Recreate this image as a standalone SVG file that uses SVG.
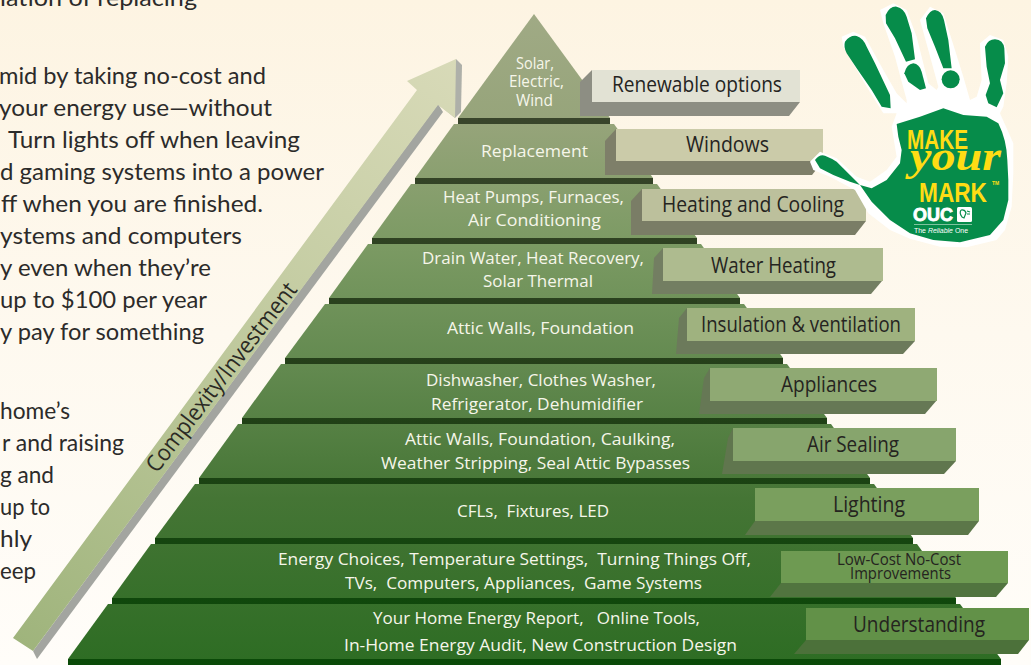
<svg xmlns="http://www.w3.org/2000/svg" width="1031" height="665" viewBox="0 0 1031 665">
<defs>
<linearGradient id="bg" x1="0" y1="0" x2="0" y2="1"><stop offset="0" stop-color="#fdf4e2"/><stop offset="0.5" stop-color="#fef9ef"/><stop offset="1" stop-color="#fffdf9"/></linearGradient>
<linearGradient id="tierFill" gradientUnits="userSpaceOnUse" x1="0" y1="14" x2="0" y2="660"><stop offset="0" stop-color="#a0aa85"/><stop offset="0.17" stop-color="#96a47a"/><stop offset="0.36" stop-color="#7b9a63"/><stop offset="0.55" stop-color="#62894f"/><stop offset="0.75" stop-color="#457535"/><stop offset="1" stop-color="#2e6d24"/></linearGradient>
<linearGradient id="barFill" gradientUnits="userSpaceOnUse" x1="0" y1="118" x2="0" y2="665"><stop offset="0" stop-color="#39452b"/><stop offset="0.5" stop-color="#233f18"/><stop offset="1" stop-color="#0a4a08"/></linearGradient>
<linearGradient id="arrowFill" gradientUnits="userSpaceOnUse" x1="456" y1="59" x2="20" y2="645"><stop offset="0" stop-color="#d8dab8"/><stop offset="0.5" stop-color="#bfc99d"/><stop offset="1" stop-color="#9fb47c"/></linearGradient>
<style>
.tier{fill:url(#tierFill)}
.bar{fill:url(#barFill)}
.t{font-family:"Open Sans","Noto Sans",sans-serif;font-size:17px;fill:#f6f6ea;white-space:pre}
.l{font-family:"Open Sans","Noto Sans",sans-serif;font-size:21.5px;fill:#25241f}
.s{font-size:16px}
.b{font-family:Lato,"Open Sans",sans-serif;font-size:24px;fill:#2c2b2a}
.hand{fill:#068c4a}
.y{fill:#ffdc14}
</style>
</defs>
<rect width="1031" height="665" fill="url(#bg)"/>

<g id="body-text">
<text class="b" x="0" y="6" textLength="197" lengthAdjust="spacingAndGlyphs">lation of replacing</text>
<text class="b" x="-1" y="84" textLength="267" lengthAdjust="spacingAndGlyphs">mid by taking no-cost and</text>
<text class="b" x="-1" y="116" textLength="273" lengthAdjust="spacingAndGlyphs">your energy use—without</text>
<text class="b" x="8" y="148" textLength="292" lengthAdjust="spacingAndGlyphs">Turn lights off when leaving</text>
<text class="b" x="0" y="180" textLength="324" lengthAdjust="spacingAndGlyphs">d gaming systems into a power</text>
<text class="b" x="1" y="212" textLength="262" lengthAdjust="spacingAndGlyphs">ff when you are finished.</text>
<text class="b" x="0" y="244" textLength="242" lengthAdjust="spacingAndGlyphs">ystems and computers</text>
<text class="b" x="0" y="276" textLength="211" lengthAdjust="spacingAndGlyphs">y even when they’re</text>
<text class="b" x="0" y="308" textLength="207" lengthAdjust="spacingAndGlyphs">up to $100 per year</text>
<text class="b" x="0" y="340" textLength="204" lengthAdjust="spacingAndGlyphs">y pay for something</text>
<text class="b" x="0" y="419" textLength="70" lengthAdjust="spacingAndGlyphs">home’s</text>
<text class="b" x="2" y="451" textLength="122" lengthAdjust="spacingAndGlyphs">r and raising</text>
<text class="b" x="0" y="483" textLength="54" lengthAdjust="spacingAndGlyphs">g and</text>
<text class="b" x="0" y="515" textLength="50" lengthAdjust="spacingAndGlyphs">up to</text>
<text class="b" x="0" y="547" textLength="32" lengthAdjust="spacingAndGlyphs">hly</text>
<text class="b" x="0" y="579" textLength="36" lengthAdjust="spacingAndGlyphs">eep</text>
</g>

<g id="arrow">
<polygon points="33,651 37,659 443,112 438,104" fill="#a3a5a0"/>
<polygon points="456,59 462,65 461,112 455,118 438,104" fill="#aeb0a9"/>
<polygon points="456,59 407,81 417,90 13,638 33,651 438,105 455,118" fill="url(#arrowFill)"/>
<text transform="translate(157,474) rotate(-52.5)" font-family="'Open Sans','Noto Sans',sans-serif" font-size="23" fill="#2b2a24" textLength="232" lengthAdjust="spacingAndGlyphs">Complexity/Investment</text>
</g>

<g id="tier-solar"><polygon class="tier" points="534,14 610,118 458,118"/><rect class="bar" x="458" y="118" width="152" height="6"/>
<text class="t" x="516" y="69" textLength="38" lengthAdjust="spacingAndGlyphs">Solar,</text><text class="t" x="509" y="87" textLength="55" lengthAdjust="spacingAndGlyphs">Electric,</text><text class="t" x="516" y="106" textLength="37" lengthAdjust="spacingAndGlyphs">Wind</text></g>
<g id="tier-replacement"><polygon class="tier" points="454,124 614,124 653,178 415,178"/><rect class="bar" x="415" y="178" width="238" height="6"/>
<text class="t" x="481" y="157" textLength="107" lengthAdjust="spacingAndGlyphs">Replacement</text></g>
<g id="tier-heat"><polygon class="tier" points="411,184 657,184 697,238 372,238"/><rect class="bar" x="372" y="238" width="325" height="6"/>
<text class="t" x="443" y="203" textLength="181" lengthAdjust="spacingAndGlyphs">Heat Pumps, Furnaces,</text><text class="t" x="468" y="226" textLength="133" lengthAdjust="spacingAndGlyphs">Air Conditioning</text></g>
<g id="tier-water"><polygon class="tier" points="368,244 701,244 740,298 329,298"/><rect class="bar" x="329" y="298" width="411" height="6"/>
<text class="t" x="422" y="264" textLength="222" lengthAdjust="spacingAndGlyphs">Drain Water, Heat Recovery,</text><text class="t" x="483" y="287" textLength="110" lengthAdjust="spacingAndGlyphs">Solar Thermal</text></g>
<g id="tier-insulation"><polygon class="tier" points="325,304 744,304 783,358 285,358"/><rect class="bar" x="285" y="358" width="498" height="6"/>
<text class="t" x="447" y="334" textLength="187" lengthAdjust="spacingAndGlyphs">Attic Walls, Foundation</text></g>
<g id="tier-appliances"><polygon class="tier" points="281,364 787,364 827,418 242,418"/><rect class="bar" x="242" y="418" width="585" height="6"/>
<text class="t" x="426" y="386" textLength="230" lengthAdjust="spacingAndGlyphs">Dishwasher, Clothes Washer,</text><text class="t" x="431" y="410" textLength="212" lengthAdjust="spacingAndGlyphs">Refrigerator, Dehumidifier</text></g>
<g id="tier-sealing"><polygon class="tier" points="238,424 831,424 870,478 199,478"/><rect class="bar" x="199" y="478" width="671" height="6"/>
<text class="t" x="405" y="445" textLength="270" lengthAdjust="spacingAndGlyphs">Attic Walls, Foundation, Caulking,</text><text class="t" x="381" y="469" textLength="309" lengthAdjust="spacingAndGlyphs">Weather Stripping, Seal Attic Bypasses</text></g>
<g id="tier-lighting"><polygon class="tier" points="195,484 874,484 913,538 155,538"/><rect class="bar" x="155" y="538" width="758" height="6"/>
<text class="t" x="457" y="517" textLength="152" lengthAdjust="spacingAndGlyphs">CFLs,  Fixtures, LED</text></g>
<g id="tier-lowcost"><polygon class="tier" points="151,544 917,544 956,598 112,598"/><rect class="bar" x="112" y="598" width="844" height="6"/>
<text class="t" x="278" y="565" textLength="473" lengthAdjust="spacingAndGlyphs">Energy Choices, Temperature Settings,  Turning Things Off,</text><text class="t" x="345" y="589" textLength="357" lengthAdjust="spacingAndGlyphs">TVs,  Computers, Appliances,  Game Systems</text></g>
<g id="tier-understanding"><polygon class="tier" points="108,604 960,604 1001,659 68,659"/><rect class="bar" x="68" y="659" width="933" height="6"/>
<text class="t" x="373" y="624" textLength="327" lengthAdjust="spacingAndGlyphs">Your Home Energy Report,   Online Tools,</text><text class="t" x="344" y="651" textLength="393" lengthAdjust="spacingAndGlyphs">In-Home Energy Audit, New Construction Design</text></g>

<g id="tab-renewable"><polygon fill="#8d8e83" points="592,70 580,82 580,116 789,116 800,102"/><rect fill="#e2e2d4" x="592" y="70" width="208" height="32"/><text class="l" x="612" y="92" textLength="170" lengthAdjust="spacingAndGlyphs">Renewable options</text></g>
<g id="tab-windows"><polygon fill="#7e7f69" points="616,129 605,141 605,175 812,175 823,161"/><rect fill="#cbcba9" x="616" y="129" width="207" height="32"/><text class="l" x="686" y="152" textLength="83" lengthAdjust="spacingAndGlyphs">Windows</text></g>
<g id="tab-heating"><polygon fill="#7a7d66" points="642,189 631,201 631,235 855,235 866,221"/><rect fill="#bcc09c" x="642" y="189" width="224" height="32"/><text class="l" x="662" y="212" textLength="182" lengthAdjust="spacingAndGlyphs">Heating and Cooling</text></g>
<g id="tab-water"><polygon fill="#737e62" points="663,248 654,258 652,294 871,294 882,281"/><rect fill="#aebb8f" x="663" y="248" width="220" height="33"/><text class="l" x="711" y="273" textLength="125" lengthAdjust="spacingAndGlyphs">Water Heating</text></g>
<g id="tab-insulation"><polygon fill="#6c7a5b" points="687,308 679,318 676,354 903,354 915,341"/><rect fill="#9fb27f" x="687" y="308" width="228" height="33"/><text class="l" x="701" y="332" textLength="200" lengthAdjust="spacingAndGlyphs">Insulation &amp; ventilation</text></g>
<g id="tab-appliances"><polygon fill="#667855" points="710,368 704,378 699,414 925,414 937,400"/><rect fill="#8fa973" x="710" y="368" width="227" height="33"/><text class="l" x="781" y="392" textLength="96" lengthAdjust="spacingAndGlyphs">Appliances</text></g>
<g id="tab-sealing"><polygon fill="#60764e" points="733,428 728,438 722,474 944,474 956,461"/><rect fill="#87a56d" x="733" y="428" width="223" height="33"/><text class="l" x="807" y="452" textLength="92" lengthAdjust="spacingAndGlyphs">Air Sealing</text></g>
<g id="tab-lighting"><polygon fill="#5c7749" points="755,521 745,535 968,535 979,521"/><rect fill="#7a9f5e" x="755" y="488" width="224" height="33"/><text class="l" x="833" y="512" textLength="72" lengthAdjust="spacingAndGlyphs">Lighting</text></g>
<g id="tab-lowcost"><polygon fill="#51743f" points="781,583 770,597 996,597 1008,583"/><rect fill="#6e9a52" x="781" y="551" width="227" height="32"/><text class="l s" x="837" y="565" textLength="124" lengthAdjust="spacingAndGlyphs">Low-Cost No-Cost</text><text class="l s" x="850" y="579" textLength="101" lengthAdjust="spacingAndGlyphs">Improvements</text></g>
<g id="tab-understanding"><polygon fill="#4c713a" points="806,640 794,654 1018,654 1029,640"/><rect fill="#629148" x="806" y="608" width="223" height="32"/><text class="l" x="853" y="632" textLength="132" lengthAdjust="spacingAndGlyphs">Understanding</text></g>

<g id="logo">
<g transform="translate(800,0) scale(0.3333)">
<path fill="#ffffff" d="M30,485 L60,455 L110,475 L170,530 L210,545 L260,510 L290,470 L275,380 L290,340 L250,340 L200,260 L130,140 L125,110 L160,95 L195,110 L250,210 L290,280 L320,310 L320,300 L285,170 L250,70 L240,30 L280,10 L320,30 L350,110 L385,250 L410,270 L415,260 L385,150 L360,60 L390,20 L430,40 L465,150 L490,230 L510,300 L530,290 L545,240 L540,130 L570,105 L610,120 L625,170 L620,250 L610,320 L600,340 L640,430 L640,520 L635,620 L615,690 L590,720 L500,742 L420,740 L330,716 L270,690 L205,640 L165,570 L90,530 L40,510 Z"/>
<path class="hand" d="M45,480 Q58,462 75,467 Q95,475 110,485 L165,540 L180,555 L150,545 L100,525 L60,505 Z"/>
<path class="hand" d="M290,372 L360,350 L430,325 L490,345 L560,350 L595,370 Q620,420 622,480 L625,540 L625,600 L610,660 L570,705 L480,727 L400,720 L330,700 L270,660 L215,605 L180,555 L215,565 L260,540 L300,490 L305,450 L295,410 Z"/>
<path class="hand" d="M135,125 Q150,105 170,108 Q190,115 200,140 L225,190 L270,285 L272,325 L245,320 L215,270 L170,205 L140,160 Q130,140 135,125 Z"/>
<path class="hand" d="M257,45 Q270,18 290,20 Q312,25 320,50 L335,100 L345,178 L318,185 L285,115 L258,70 Z"/>
<path class="hand" d="M313,220 Q320,192 340,190 Q358,192 365,215 L378,265 L360,270 L325,245 Z"/>
<path class="hand" d="M378,55 Q390,30 405,30 Q425,32 432,60 L445,120 L455,205 L430,205 L405,140 L382,85 Z"/>
<circle class="hand" cx="452" cy="238" r="27"/>
<path class="hand" d="M555,140 Q565,118 585,118 Q610,120 613,145 L615,190 L600,240 L610,280 L590,322 L565,310 L557,285 L570,250 L560,200 Z"/>
</g>
<text class="y" x="907" y="149" textLength="61" lengthAdjust="spacingAndGlyphs" font-family="'Liberation Sans',sans-serif" font-size="28" font-weight="700">MAKE</text>
<text class="y" x="910" y="170" textLength="91" lengthAdjust="spacingAndGlyphs" font-family="'Liberation Serif',serif" font-size="40" font-weight="700" font-style="italic">your</text>
<text class="y" x="919" y="202" textLength="68" lengthAdjust="spacingAndGlyphs" font-family="'Liberation Sans',sans-serif" font-size="28" font-weight="700">MARK</text>
<text class="y" x="992" y="185" font-family="'Liberation Sans',sans-serif" font-size="5" font-weight="700">TM</text>
<text x="913" y="221" textLength="40" lengthAdjust="spacingAndGlyphs" font-family="'Liberation Sans',sans-serif" font-size="18" font-weight="700" fill="#ffffff" stroke="#ffffff" stroke-width="0.8">OUC</text>
<rect x="957" y="207" width="15" height="15" rx="1.5" fill="#ffffff"/>
<path d="M961,210 q4,-1 5,3 l-2,5 l-2,-1 q-3,-4 -1,-7 M967,211 l3,1 M967,214 l3,0" fill="none" stroke="#068c4a" stroke-width="1.2"/>
<rect x="914" y="224" width="58" height="0.6" fill="#cfe8d8"/>
<text x="914" y="233" textLength="54" lengthAdjust="spacingAndGlyphs" font-family="'Liberation Sans',sans-serif" font-size="7.5" fill="#ffffff">The <tspan font-style="italic">Reliable</tspan> One</text>
</g>
</svg>
